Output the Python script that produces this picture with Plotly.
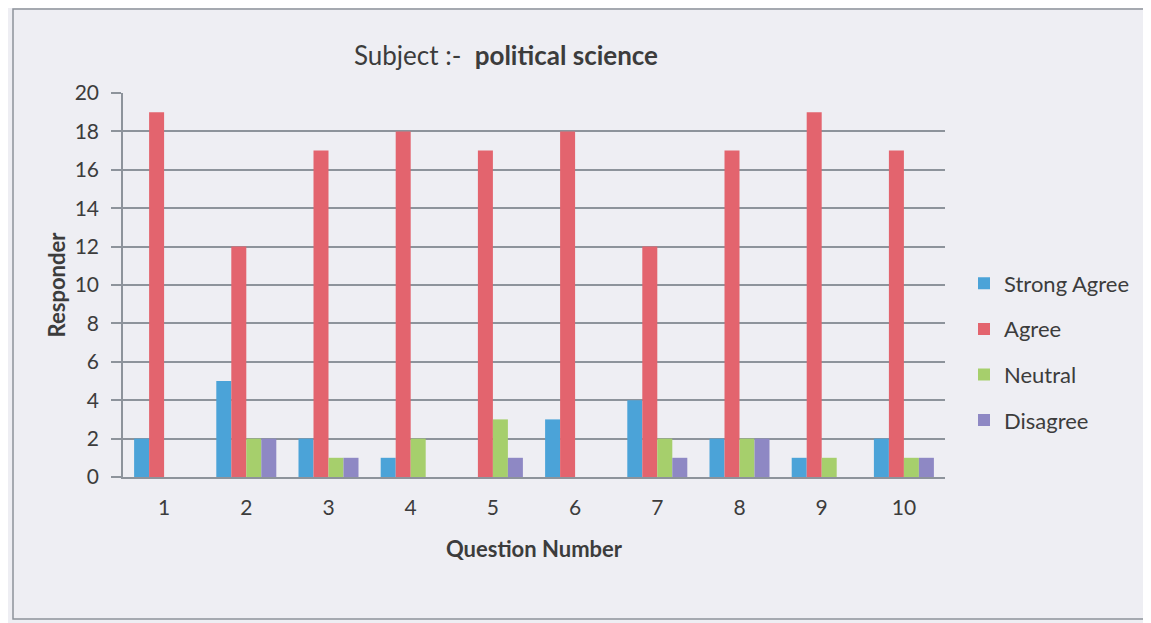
import plotly.graph_objects as go

questions = ["1", "2", "3", "4", "5", "6", "7", "8", "9", "10"]
strong_agree = [2, 5, 2, 1, 0, 3, 4, 2, 1, 2]
agree = [19, 12, 17, 18, 17, 18, 12, 17, 19, 17]
neutral = [0, 2, 1, 2, 3, 0, 2, 2, 1, 1]
disagree = [0, 2, 1, 0, 1, 0, 1, 2, 0, 1]

series_names = ["Strong Agree", "Agree", "Neutral", "Disagree"]
series_values = [strong_agree, agree, neutral, disagree]
colors = ["#4ba3d8", "#e3646e", "#a6cf6c", "#8e88c4"]

font_family = "Lato, Carlito, 'Open Sans', sans-serif"
text_color = "#3c3c3c"

# page body adds an 8px offset; plot area in figure coords
L, R, T, B = 115, 937, 85, 469
W, H = 1151, 623
pw, ph = R - L, B - T

fig = go.Figure()
for name, vals, col in zip(series_names, series_values, colors):
    fig.add_trace(go.Bar(
        x=questions, y=vals, name=name, marker=dict(color=col, line=dict(width=0)),
        legendgroup=name,
    ))

fig.update_layout(
    width=W, height=H,
    barmode="group", bargap=0.27, bargroupgap=0,
    paper_bgcolor="#eeeef3", plot_bgcolor="#eeeef3",
    margin=dict(l=L, r=W - R, t=T, b=H - B),
    font=dict(family=font_family, size=21, color=text_color),
    title=dict(
        text="Subject :-  <b>political science</b>",
        x=498 / W, xanchor="center", y=1 - 48 / H, yanchor="middle",
        font=dict(size=26, color=text_color, family=font_family),
    ),
    showlegend=True,
    legend=dict(
        x=(956 - L) / pw, xanchor="left", y=1 - (344 - T) / ph, yanchor="middle",
        traceorder="grouped", tracegroupgap=14,
        font=dict(size=22, color=text_color),
        bgcolor="rgba(0,0,0,0)", itemwidth=30,
    ),
    xaxis=dict(
        showgrid=False, showline=True, linecolor="#8d939b", linewidth=1.5,
        ticks="", ticklabelstandoff=11, zeroline=False,
        title=dict(text="<b>Question Number</b>", standoff=24, font=dict(size=22)),
    ),
    yaxis=dict(
        range=[0, 20], dtick=2, showgrid=True, gridcolor="#8d939b", gridwidth=1.5,
        showline=True, linecolor="#8d939b", linewidth=1.5,
        ticks="outside", ticklen=10, tickcolor="#8d939b", tickwidth=1.5,
        zeroline=False, ticklabelstandoff=8,
        title=dict(text="<b>Responder</b>", standoff=3, font=dict(size=22)),
    ),
    shapes=[dict(
        type="rect", xref="paper", yref="paper",
        x0=(5 - L) / pw, x1=(1160 - L) / pw,
        y0=(B - 611) / ph, y1=(B - 1) / ph,
        line=dict(color="#8d939b", width=1.5), fillcolor="rgba(0,0,0,0)", layer="below",
    )],
)

fig.write_html("out.html")
